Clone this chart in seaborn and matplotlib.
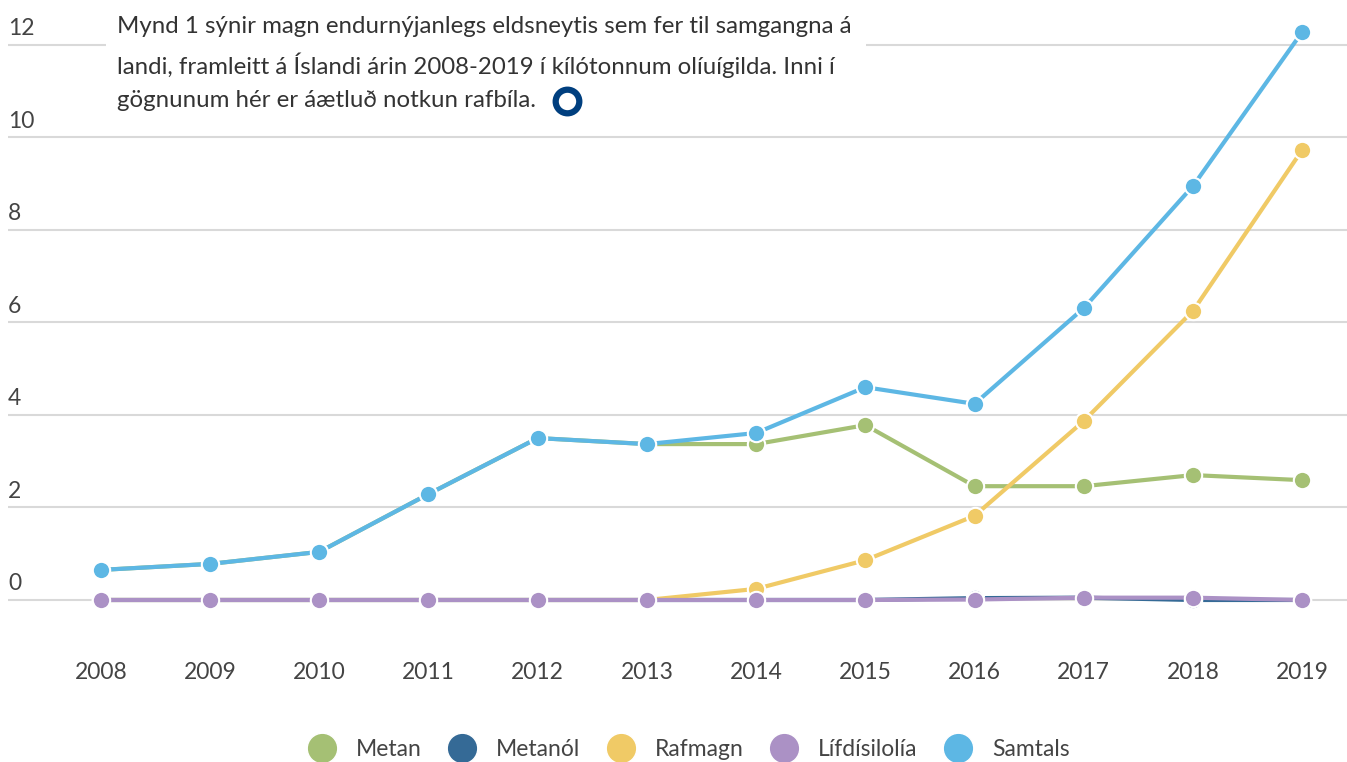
import matplotlib
matplotlib.use("Agg")
import matplotlib.pyplot as plt
import matplotlib.transforms as mtrans
from matplotlib.lines import Line2D
import seaborn as sns
import pandas as pd

years = [2008, 2009, 2010, 2011, 2012, 2013, 2014, 2015, 2016, 2017, 2018, 2019]
metan = [0.65, 0.78, 1.04, 2.29, 3.50, 3.37, 3.37, 3.78, 2.46, 2.46, 2.70, 2.59]
metanol = [0, 0, 0, 0, 0, 0, 0, 0, 0.04, 0.05, 0.0, 0]
rafmagn = [0, 0, 0, 0, 0, 0, 0.24, 0.86, 1.82, 3.87, 6.25, 9.73]
lifdisil = [0, 0, 0, 0, 0, 0, 0, 0, 0.01, 0.05, 0.05, 0]
samtals = [0.65, 0.78, 1.04, 2.29, 3.50, 3.37, 3.61, 4.60, 4.24, 6.31, 8.95, 12.28]
series_names = ["Metan", "Metanól", "Rafmagn", "Lífdísilolía", "Samtals"]
series_values = [metan, metanol, rafmagn, lifdisil, samtals]
colors = ["#a5c074", "#356a96", "#f0ca66", "#ab91c5", "#5db7e4"]
yticks = [0, 2, 4, 6, 8, 10, 12]
title_text = ("Mynd 1 sýnir magn endurnýjanlegs eldsneytis sem fer til samgangna á\n"
              "landi, framleitt á Íslandi árin 2008-2019 í kílótonnum olíuígilda. Inni í\n"
              "gögnunum hér er áætluð notkun rafbíla.")

rows = []
for name, vals in zip(series_names, series_values):
    for y, v in zip(years, vals):
        rows.append({"year": y, "value": v, "series": name})
df = pd.DataFrame(rows)

sns.set_theme(style="white")
plt.rcParams["font.family"] = ["Lato", "DejaVu Sans"]

W, H = 1347, 762
fig = plt.figure(figsize=(W / 100, H / 100), dpi=100)
ax = fig.add_axes([8 / W, 1 - 640 / H, 1 - 8 / W, 640 / H])

sns.lineplot(data=df, x="year", y="value", hue="series", hue_order=series_names,
             palette=colors, marker="o", markersize=12.5, markeredgecolor="white",
             markeredgewidth=1.5, linewidth=3, legend=False, ax=ax, sort=False)

ax.set_xlim(2007.15, 2019.41)
ax.set_ylim(-0.865, 12.97)
ax.set_yticks(yticks)
ax.set_yticklabels([])
ax.tick_params(axis="y", length=0)
ax.grid(axis="y", color="#d9d9d9", linewidth=1.5, zorder=0)
ax.set_axisbelow(True)
ax.set_xticks(years)
ax.set_xticklabels([str(y) for y in years], fontsize=16.5, color="#444444")
ax.tick_params(axis="x", length=0, pad=16)
ax.set_xlabel("")
ax.set_ylabel("")
for s in ax.spines.values():
    s.set_visible(False)

trans = mtrans.blended_transform_factory(ax.transAxes, ax.transData)
for t in yticks:
    ax.text(0.0, t, str(t), transform=trans + mtrans.ScaledTranslation(0, 4 / 72, fig.dpi_scale_trans),
            ha="left", va="bottom", fontsize=16.5, color="#444444")

# title box
fig.patches.append(plt.Rectangle((106 / W, 1 - 124 / H), (866 - 106) / W, 124 / H,
                                 transform=fig.transFigure, facecolor="white",
                                 edgecolor="none", zorder=5))
fig.text(117 / W, 1 - 16 / H, title_text, ha="left", va="top", fontsize=17.3,
         color="#333333", linespacing=1.72, zorder=6)
fig.add_artist(Line2D([567 / W], [1 - 101 / H], marker="o", markersize=17,
                      markerfacecolor="white", markeredgecolor="#003f7f",
                      markeredgewidth=4.5, transform=fig.transFigure, zorder=7))

handles = [Line2D([], [], marker="o", linestyle="none", markersize=22,
                  markerfacecolor=c, markeredgecolor="white") for c in colors]
fig.legend(handles, series_names, loc="center", bbox_to_anchor=(0.508, 1 - 750 / H),
           ncol=5, frameon=False, fontsize=16.5, handletextpad=0.5,
           columnspacing=0.75, labelcolor="#444444")

fig.savefig("out.png", dpi=100)
